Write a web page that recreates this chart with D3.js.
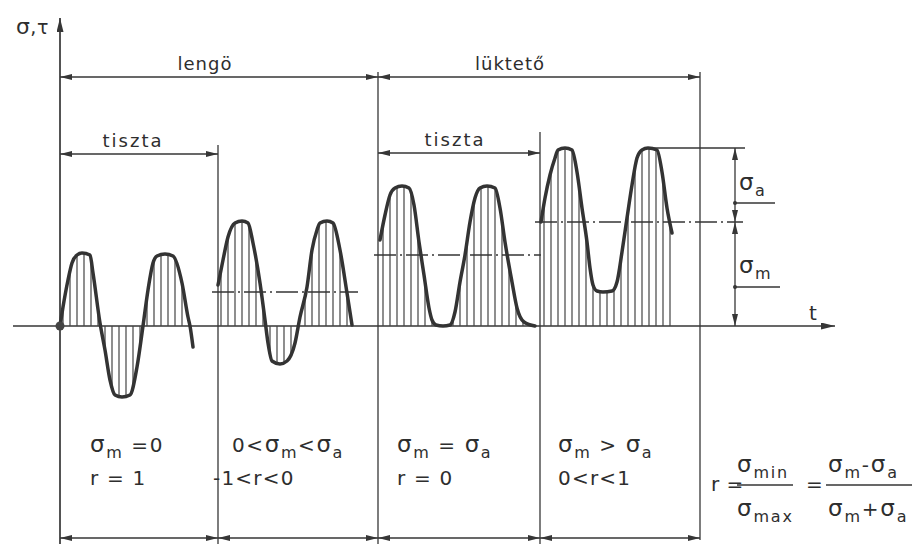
<!DOCTYPE html>
<html>
<head>
<meta charset="utf-8">
<script src="https://cdn.jsdelivr.net/npm/d3@7"></script>
<style>
  body { margin: 0; background: #fff; }
  text { font-family: "DejaVu Sans", sans-serif; fill: #2e2e2e; }
</style>
</head>
<body>
<div id="chart"></div>
<script>
// wave shapes: [t, stress]
const wavePure = [[0,0],[3,19],[8,46],[12,63],[17,71],[22,73],[30,71],[33,53],[40,3],[45,-24],[50,-54],[55,-69],[62,-71],[70,-69],[77,-41],[83,0],[88,36],[93,63],[97,70],[105,72],[113,70],[122,43],[128,9],[130,0],[133,-21]];
const waveMixed = [[158,41],[163,66],[168,89],[175,103],[182,105],[188,103],[193,83],[200,43],[205,6],[208,-17],[212,-35],[220,-38],[227,-35],[235,-17],[240,9],[247,39],[252,76],[257,96],[260,103],[267,105],[273,103],[280,76],[287,33],[292,1]];
const wavePulsePure = [[320,86],[325,111],[330,131],[335,138],[342,140],[349,138],[354,121],[359,84],[364,51],[369,18],[372,6],[376,1],[383,0],[390,1],[395,14],[400,44],[405,71],[410,104],[415,128],[420,138],[427,140],[435,138],[440,118],[445,84],[452,44],[457,18],[464,4],[475,0]];
const wavePulse = [[481,104],[485,128],[490,151],[495,168],[498,176],[505,178],[512,176],[517,154],[522,118],[527,84],[530,58],[533,41],[537,35],[543,34],[552,35],[557,44],[562,74],[567,108],[572,141],[577,168],[582,176],[588,178],[597,176],[602,154],[607,118],[612,93]];
const waves = [wavePure, waveMixed, wavePulsePure, wavePulse];
const meanLevels = [0, 34, 71, 104];
const maxLevel = 178;

const boundaries = [0, 158, 318, 480, 640];
const groupLabels = ["lengö", "lüktető"];
const pureLabel = "tiszta";
const conditionRow1 = ["σ_m =0", "0<σ_m<σ_a", "σ_m = σ_a", "σ_m > σ_a"];
const conditionRow2 = ["r = 1", "-1<r<0", "r = 0", "0<r<1"];

const W = 913, H = 544;
const x = d3.scaleLinear().domain([0, 640]).range([60, 700]);
const y = d3.scaleLinear().domain([0, maxLevel]).range([326, 148]);

const svg = d3.select("#chart").append("svg").attr("width", W).attr("height", H);
const ink = "#363636";

const defs = svg.append("defs");
defs.append("marker").attr("id", "arr")
  .attr("viewBox", "0 0 12 6").attr("refX", 12).attr("refY", 3)
  .attr("markerWidth", 12).attr("markerHeight", 6)
  .attr("markerUnits", "userSpaceOnUse").attr("orient", "auto-start-reverse")
  .append("path").attr("d", "M0,0L12,3L0,6Z").attr("fill", ink);
defs.append("marker").attr("id", "axarr")
  .attr("viewBox", "0 0 14 7").attr("refX", 14).attr("refY", 3.5)
  .attr("markerWidth", 14).attr("markerHeight", 7)
  .attr("markerUnits", "userSpaceOnUse").attr("orient", "auto")
  .append("path").attr("d", "M0,0L14,3.5L0,7Z").attr("fill", ink);

function line(x1, y1, x2, y2, w) {
  return svg.append("line").attr("x1", x1).attr("y1", y1).attr("x2", x2).attr("y2", y2)
    .attr("stroke", ink).attr("stroke-width", w || 1.3);
}
function dim(x1, y1, x2, y2) {
  return line(x1, y1, x2, y2, 1.3).attr("marker-start", "url(#arr)").attr("marker-end", "url(#arr)");
}

// text with _sub subscripts
function rich(sel, str, size) {
  const sub = Math.round(size * 0.3);
  let down = false;
  str.split(/(_[a-z]+)/).forEach(p => {
    if (!p) return;
    if (p[0] === "_") {
      sel.append("tspan").attr("dy", down ? 0 : sub).attr("font-size", size * 0.8).text(p.slice(1));
      down = true;
    } else {
      p.split(/(σ)/).forEach(q => {
        if (!q) return;
        const t = sel.append("tspan").attr("font-size", q === "σ" ? size * 1.15 : size).text(q);
        if (down) { t.attr("dy", -sub); down = false; }
      });
    }
  });
  return sel;
}
function label(px, py, str, size, anchor, spacing) {
  const t = svg.append("text").attr("x", px).attr("y", py).attr("font-size", size)
    .attr("text-anchor", anchor || "start").attr("letter-spacing", spacing == null ? 1.4 : spacing);
  return rich(t, str, size);
}

// segment boundary lines
const boundTops = [18, 145, 72, 132, 72];
boundaries.forEach((b, i) => {
  if (i === 0) return;
  line(x(b), boundTops[i], x(b), i === 4 ? 540 : H, 1.3);
});

// axes
line(x(0), H, x(0), 18, 1.7).attr("marker-end", "url(#axarr)");
line(13, y(0), 835, y(0), 1.7).attr("marker-end", "url(#axarr)");
label(16, 34, "σ,τ", 19, "start", 0.5);
label(809, 320, "t", 20);

// top dimension lines
dim(x(boundaries[0]), 77, x(boundaries[2]), 77);
dim(x(boundaries[2]), 77, x(boundaries[4]), 77);
label(205, 70, groupLabels[0], 18, "middle", 1);
label(510, 70, groupLabels[1], 18, "middle", 1);
dim(x(boundaries[0]), 154, x(boundaries[1]), 154);
dim(x(boundaries[2]), 153, x(boundaries[3]), 153);
label(133, 147, pureLabel, 18, "middle", 2);
label(455, 146, pureLabel, 18, "middle", 2);

// bottom dimension line
for (let i = 0; i < 4; i++) dim(x(boundaries[i]), 538, x(boundaries[i + 1]), 538);

// waves with hatching
const curve = d3.curveMonotoneX;
const area = d3.area().curve(curve).x(d => x(d[0])).y0(y(0)).y1(d => y(d[1]));
const path = d3.line().curve(curve).x(d => x(d[0])).y(d => y(d[1]));

waves.forEach((w, i) => {
  defs.append("clipPath").attr("id", "clip" + i).append("path").attr("d", area(w));
  const x0 = x(w[0][0]), x1 = x(w[w.length - 1][0]);
  svg.append("g").attr("clip-path", `url(#clip${i})`)
    .selectAll("line").data(d3.range(x0 + 3, x1, 7)).join("line")
    .attr("x1", d => d).attr("x2", d => d).attr("y1", 120).attr("y2", 420)
    .attr("stroke", "#444").attr("stroke-width", 1.2);
  if (i > 0) {
    const ext = i === 3 ? x(675) + 8 : x1 + 6;
    line(x0 - 6, y(meanLevels[i]), ext, y(meanLevels[i]), 1.3).attr("stroke-dasharray", "22,4,2,4");
  }
  svg.append("path").attr("d", path(w)).attr("fill", "none")
    .attr("stroke", "#333").attr("stroke-width", 3.5).attr("stroke-linecap", "round");
});
svg.append("circle").attr("cx", x(0)).attr("cy", y(0)).attr("r", 4.5).attr("fill", "#444");

// σa / σm dimensions at the right
const dx = 735;
line(x(588), y(maxLevel), 745, y(maxLevel), 1.3);
dim(dx, y(maxLevel), dx, y(meanLevels[3]));
dim(dx, y(meanLevels[3]), dx, y(0));
line(dx, 203, 775, 203, 1.3);
line(dx, 287, 780, 287, 1.3);
svg.append("circle").attr("cx", dx).attr("cy", 203).attr("r", 2).attr("fill", ink);
svg.append("circle").attr("cx", dx).attr("cy", 287).attr("r", 2).attr("fill", ink);
label(739, 190, "σ_a", 20);
label(739, 273, "σ_m", 20);

// conditions under each segment
const row1X = [90, 232, 397, 558], row2X = [90, 213, 397, 558];
conditionRow1.forEach((s, i) => label(row1X[i], 452, s, 20, "start", 1.6));
conditionRow2.forEach((s, i) => label(row2X[i], 485, s, 20, "start", 1.2));

// r formula
label(711, 491, "r =", 20, "start", 0.5);
label(737, 472, "σ_min", 20, "start", 1.8);
line(737, 485, 793, 485, 1.5);
label(737, 516, "σ_max", 20, "start", 1.8);
label(806, 491, "=", 20);
label(828, 472, "σ_m-σ_a", 20, "start", 1.8);
line(826, 485, 912, 485, 1.5);
label(828, 516, "σ_m+σ_a", 20, "start", 1.8);
</script>
</body>
</html>
